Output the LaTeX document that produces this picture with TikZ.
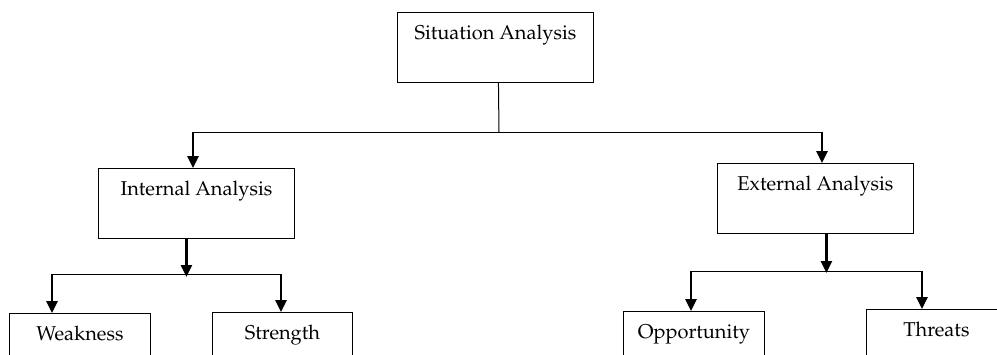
\documentclass[tikz,border=0pt]{standalone}
\usepackage[T1]{fontenc}
\usepackage{mathpazo}
\usetikzlibrary{arrows.meta}
\begin{document}
\begin{tikzpicture}[x=1pt,y=-1pt,
  box/.style={draw=black,line width=0.9pt,anchor=north west,inner sep=0pt,
    align=center,font=\fontfamily{ppl}\fontsize{20}{24}\selectfont,text height=27pt,text depth=43pt},
  lowbox/.style={box,text depth=50pt},
  thin/.style={draw=black,line width=1pt},
  arr/.style={draw=black,line width=2.6pt,-{Triangle[width=11pt,length=12pt]}}]
\useasboundingbox (0,0) rectangle (997,354);
% boxes
\node[box,minimum width=196pt] (sit) at (397,12) {Situation Analysis};
\node[box,minimum width=196pt] (int) at (98,168) {Internal Analysis};
\node[box,minimum width=196pt] (ext) at (717,163) {External Analysis};
\node[lowbox,minimum width=141pt] (weak) at (9,313) {Weakness};
\node[lowbox,minimum width=140pt] (str) at (212,312) {Strength};
\node[lowbox,minimum width=141pt] (opp) at (623,311) {Opportunity};
\node[lowbox,minimum width=140pt] (thr) at (866,309) {Threats};
% junctions
\coordinate (j0) at (499,132);
\coordinate (jl) at (193,132);
\coordinate (jr) at (822,132);
\coordinate (il) at (52,274);
\coordinate (ir) at (281,274);
\coordinate (el) at (691,271);
\coordinate (er) at (922,271);
% top level
\draw[thin] ([xshift=3pt]sit.south) -- (j0);
\draw[thin] (jl) -- (jr);
\draw[arr] (jl) -- (jl |- int.north);
\draw[arr] (jr) -- (jr |- ext.north);
% internal
\draw[arr] ([xshift=-10pt]int.south) -- ([xshift=-10pt]int.south |- 0,277);
\draw[thin] (il) -- (ir);
\draw[arr] (il) -- (il |- weak.north);
\draw[arr] (ir) -- (ir |- str.north);
% external
\draw[arr] ([xshift=11pt]ext.south) -- ([xshift=11pt]ext.south |- 0,273);
\draw[thin] (el) -- (er);
\draw[arr] (el) -- (el |- opp.north);
\draw[arr] (er) -- (er |- thr.north);
\end{tikzpicture}
\end{document}
